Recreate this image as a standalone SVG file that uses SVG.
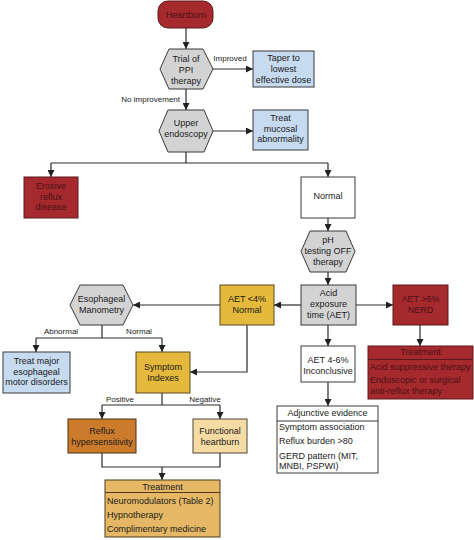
<svg xmlns="http://www.w3.org/2000/svg" width="474" height="540" viewBox="0 0 474 540">
<defs>
<marker id="ah" viewBox="0 0 8 8" refX="8" refY="4" markerWidth="7" markerHeight="7" markerUnits="userSpaceOnUse" orient="auto">
<path d="M0,0 L8,4 L0,8 Z" fill="#222"/>
</marker>
<style>
text{font-family:"Liberation Sans",Arial,sans-serif;font-size:9px;fill:#1a1a1a;text-anchor:middle}
.lbl{font-size:8px}
.l{text-anchor:start}
.rt{fill:#4a1214}
.c line,.c path{stroke:#2a2a2a;stroke-width:1.2;fill:none}
.a{marker-end:url(#ah)}
.red{fill:#a6292e;stroke:#5a1a1c;stroke-width:1}
.blue{fill:#c6daf0;stroke:#3a3a3a;stroke-width:1}
.gray{fill:#d3d3d3;stroke:#3a3a3a;stroke-width:1}
.white{fill:#ffffff;stroke:#3a3a3a;stroke-width:1}
.yel{fill:#e4b93c;stroke:#5a4a1a;stroke-width:1}
.org{fill:#cc7b2c;stroke:#4a3010;stroke-width:1}
.tan{fill:#f6dba5;stroke:#4a4a3a;stroke-width:1}
.tan2{fill:#e6b866;stroke:#4a3a1a;stroke-width:1}
</style>
</defs>
<rect width="474" height="540" fill="#ffffff"/>

<g class="c" id="connectors">
<line class="a" x1="186" y1="28" x2="186" y2="49"/>
<line class="a" x1="213" y1="69" x2="253" y2="69"/>
<line class="a" x1="186" y1="89" x2="186" y2="110"/>
<line class="a" x1="213" y1="131" x2="253" y2="131"/>
<path d="M186,152 V163 M51,163 H328"/>
<line class="a" x1="51" y1="163" x2="51" y2="177"/>
<line class="a" x1="328" y1="163" x2="328" y2="177"/>
<line class="a" x1="328" y1="218" x2="328" y2="231"/>
<line class="a" x1="328" y1="272" x2="328" y2="285"/>
<line class="a" x1="301" y1="305" x2="274" y2="305"/>
<line class="a" x1="356" y1="305" x2="393" y2="305"/>
<line class="a" x1="420" y1="325" x2="420" y2="346"/>
<line class="a" x1="328" y1="325" x2="328" y2="346"/>
<line class="a" x1="328" y1="382" x2="328" y2="406"/>
<line class="a" x1="220" y1="305" x2="133" y2="305"/>
<path class="a" d="M247,325 V372 H190"/>
<path d="M102,325 V338 M36,338 H162"/>
<line class="a" x1="36" y1="338" x2="36" y2="352"/>
<line class="a" x1="162" y1="338" x2="162" y2="352"/>
<path d="M162,393 V405 M102,405 H220"/>
<line class="a" x1="102" y1="405" x2="102" y2="419"/>
<line class="a" x1="220" y1="405" x2="220" y2="419"/>
<path d="M102,453 V467 H220 V453"/>
<line class="a" x1="162" y1="467" x2="162" y2="480"/>
<text class="lbl" x="230" y="61">Improved</text>
<text class="lbl" x="180" y="102" style="text-anchor:end">No improvement</text>
<text class="lbl" x="61" y="334">Abnormal</text>
<text class="lbl" x="139" y="334">Normal</text>
<text class="lbl" x="120" y="402">Positive</text>
<text class="lbl" x="205" y="402">Negative</text>
</g>

<g id="heartburn">
<rect class="red" x="158" y="1" width="55" height="27" rx="10"/>
<text class="rt" x="186" y="18">Heartburn</text>
</g>

<g id="trial">
<polygon class="gray" points="160,69 169,49 203,49 213,69 203,89 169,89"/>
<text x="186" y="62">Trial of</text>
<text x="186" y="73">PPI</text>
<text x="186" y="84">therapy</text>
</g>

<g id="taper">
<rect class="blue" x="253" y="51" width="61" height="36"/>
<text x="283.5" y="61">Taper to</text>
<text x="283.5" y="72">lowest</text>
<text x="283.5" y="83">effective dose</text>
</g>

<g id="endoscopy">
<polygon class="gray" points="159,131 168,110 204,110 213,131 204,152 168,152"/>
<text x="186" y="125.5">Upper</text>
<text x="186" y="136.5">endoscopy</text>
</g>

<g id="mucosal">
<rect class="blue" x="253" y="110" width="55" height="40"/>
<text x="280.5" y="121">Treat</text>
<text x="280.5" y="131.5">mucosal</text>
<text x="280.5" y="142">abnormality</text>
</g>

<g id="erosive">
<rect class="red" x="24" y="177" width="54" height="41"/>
<text class="rt" x="51" y="189">Erosive</text>
<text class="rt" x="51" y="199.5">reflux</text>
<text class="rt" x="51" y="210">disease</text>
</g>

<g id="normal">
<rect class="white" x="301" y="177" width="54" height="41"/>
<text x="328" y="199">Normal</text>
</g>

<g id="phtesting">
<polygon class="gray" points="301,251.5 310,231 346,231 355,251.5 346,272 310,272"/>
<text x="328" y="243">pH</text>
<text x="328" y="254">testing OFF</text>
<text x="328" y="264.5">therapy</text>
</g>

<g id="acid">
<rect class="gray" x="301" y="285" width="55" height="40"/>
<text x="328.5" y="296">Acid</text>
<text x="328.5" y="307">exposure</text>
<text x="328.5" y="318">time (AET)</text>
</g>

<g id="aetlow">
<rect class="yel" x="220" y="285" width="54" height="40"/>
<text x="247" y="302">AET &lt;4%</text>
<text x="247" y="313">Normal</text>
</g>

<g id="aethigh">
<rect class="red" x="393" y="285" width="55" height="40"/>
<text class="rt" x="420.5" y="302">AET &gt;6%</text>
<text class="rt" x="420.5" y="313">NERD</text>
</g>

<g id="treatment-red">
<rect class="red" x="368" y="346" width="105" height="53"/>
<line x1="368" y1="359.5" x2="473" y2="359.5" stroke="#5a1a1c" stroke-width="1"/>
<text class="rt" x="420.5" y="355">Treatment</text>
<text class="rt l" x="370" y="370">Acid suppressive therapy</text>
<text class="rt l" x="370" y="383">Endoscopic or surgical</text>
<text class="rt l" x="370" y="394">anti-reflux therapy</text>
</g>

<g id="aetmid">
<rect class="white" x="301" y="346" width="54" height="36"/>
<text x="328" y="363">AET 4-6%</text>
<text x="328" y="374">Inconclusive</text>
</g>

<g id="adjunctive">
<rect class="white" x="277" y="406" width="101" height="67"/>
<line x1="277" y1="421" x2="378" y2="421" stroke="#3a3a3a" stroke-width="1"/>
<text x="327.5" y="416">Adjunctive evidence</text>
<text class="l" x="279" y="430">Symptom association</text>
<text class="l" x="279" y="444">Reflux burden &gt;80</text>
<text class="l" x="279" y="459">GERD pattern (MIT,</text>
<text class="l" x="279" y="469">MNBI, PSPWI)</text>
</g>

<g id="manometry">
<polygon class="gray" points="70,305 80,285 123,285 133,305 123,325 80,325"/>
<text x="101.5" y="302">Esophageal</text>
<text x="101.5" y="313">Manometry</text>
</g>

<g id="treatmajor">
<rect class="blue" x="3" y="352" width="67" height="41"/>
<text x="36.5" y="364">Treat major</text>
<text x="36.5" y="374.5">esophageal</text>
<text x="36.5" y="385">motor disorders</text>
</g>

<g id="symptom">
<rect class="yel" x="136" y="352" width="54" height="41"/>
<text x="163" y="370">Symptom</text>
<text x="163" y="380.5">Indexes</text>
</g>

<g id="refluxhyp">
<rect class="org" x="68" y="419" width="68" height="34"/>
<text x="102" y="434">Reflux</text>
<text x="102" y="445">hypersensitivity</text>
</g>

<g id="functional">
<rect class="tan" x="193" y="419" width="54" height="34"/>
<text x="220" y="434">Functional</text>
<text x="220" y="445">heartburn</text>
</g>

<g id="treatment-tan">
<rect class="tan2" x="105" y="480" width="115" height="57"/>
<line x1="105" y1="492.5" x2="220" y2="492.5" stroke="#4a3a1a" stroke-width="1"/>
<text x="162.5" y="490">Treatment</text>
<text class="l" x="107" y="504">Neuromodulators (Table 2)</text>
<text class="l" x="107" y="518">Hypnotherapy</text>
<text class="l" x="107" y="532">Complimentary medicine</text>
</g>
</svg>
